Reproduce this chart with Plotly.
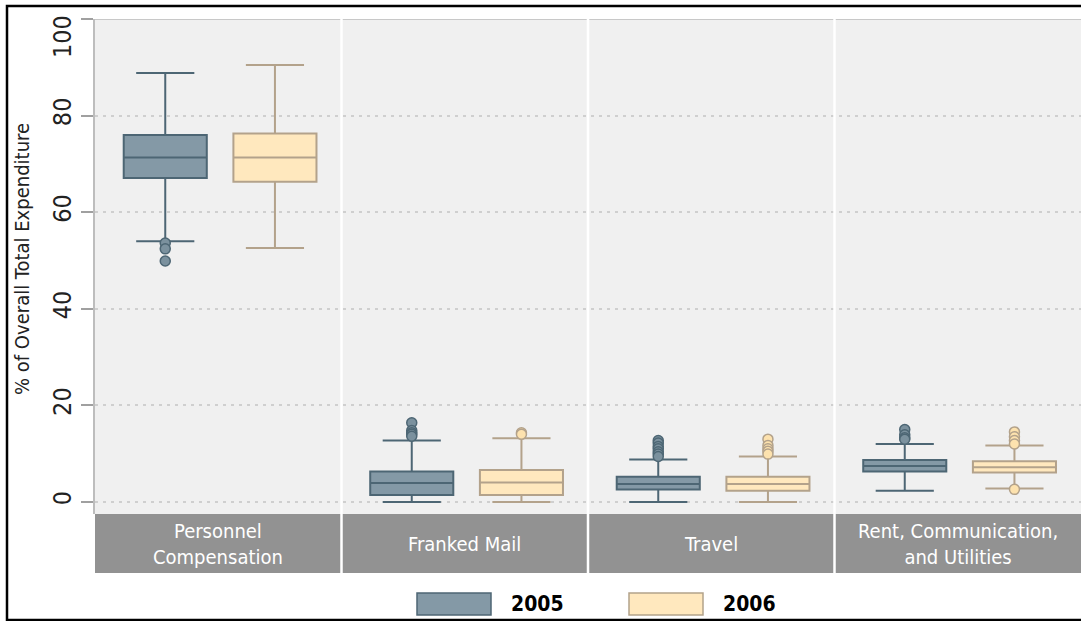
import plotly.graph_objects as go

# Expenditure categories (facet panels) and the two years compared
categories = ["Personnel<br>Compensation", "Franked Mail", "Travel",
              "Rent, Communication,<br>and Utilities"]
years = ["2005", "2006"]

# Box statistics per category, % of overall total expenditure
lower_2005 = [54.0, 0.0, 0.0, 2.3]
q1_2005 = [67.1, 1.45, 2.55, 6.3]
median_2005 = [71.3, 3.9, 3.7, 7.45]
q3_2005 = [76.0, 6.3, 5.2, 8.7]
upper_2005 = [88.8, 12.7, 8.8, 12.0]
outliers_2005 = [
    [53.6, 52.4, 49.9],
    [16.4, 14.8, 14.3, 14.0, 13.6],
    [12.7, 12.2, 11.5, 11.0, 10.4, 9.9, 9.4],
    [15.0, 13.9, 13.3, 13.0],
]

lower_2006 = [52.6, 0.0, 0.0, 2.8]
q1_2006 = [66.3, 1.45, 2.3, 6.1]
median_2006 = [71.3, 4.0, 3.7, 7.2]
q3_2006 = [76.3, 6.6, 5.2, 8.4]
upper_2006 = [90.5, 13.2, 9.4, 11.7]
outliers_2006 = [
    [],
    [14.3, 14.0],
    [13.0, 11.7, 11.0, 10.5, 9.9],
    [14.5, 13.5, 12.7, 12.0, 2.6],
]

y_ticks = [0, 20, 40, 60, 80, 100]

FONT = "DejaVu Sans Condensed, Liberation Sans Narrow, sans-serif"
FILL = {"2005": "#8499a6", "2006": "#ffe8be"}
EDGE = {"2005": "#4d6674", "2006": "#b3a28b"}
DOT_FILL = {"2005": "#7b919e", "2006": "#fde2ae"}
OFFSET = {"2005": 0.285, "2006": 0.73}
BOX_W = 0.337
TICK_SIZE = 25

stats = {
    "2005": (lower_2005, q1_2005, median_2005, q3_2005, upper_2005, outliers_2005),
    "2006": (lower_2006, q1_2006, median_2006, q3_2006, upper_2006, outliers_2006),
}

fig = go.Figure()

for yr in years:
    lo, q1, med, q3, hi, outs = stats[yr]
    xs = [i + OFFSET[yr] for i in range(len(categories))]
    fig.add_trace(go.Box(
        x=xs, q1=q1, median=med, q3=q3, lowerfence=lo, upperfence=hi,
        width=BOX_W, whiskerwidth=0.7, boxpoints=False,
        fillcolor=FILL[yr], line=dict(color=EDGE[yr], width=2),
        name=yr, showlegend=False, hoverinfo="skip",
    ))
    ox, oy = [], []
    for i, vals in enumerate(outs):
        ox += [i + OFFSET[yr]] * len(vals)
        oy += vals
    fig.add_trace(go.Scatter(
        x=ox, y=oy, mode="markers", showlegend=False, hoverinfo="skip",
        marker=dict(size=10, color=DOT_FILL[yr], line=dict(color=EDGE[yr], width=1.5)),
    ))

# plot geometry in pixels
W, H = 1081, 621
L, R, T, B = 95, 0, 19, 107
plot_h = H - T - B
plot_w = W - L - R


def py(pix_y):
    return (H - B - pix_y) / plot_h


def px(pix_x):
    return (pix_x - L) / plot_w


strip_bottom = py(573)
shapes = []

# gray strips carrying the category names
for i, cat in enumerate(categories):
    shapes.append(dict(type="rect", xref="x", yref="paper", x0=i, x1=i + 1,
                       y0=strip_bottom, y1=0, fillcolor="#929292",
                       line=dict(width=0), layer="below"))
    fig.add_annotation(x=i + 0.5, xref="x", y=strip_bottom / 2, yref="paper",
                       xanchor="center", yanchor="middle",
                       text=cat, showarrow=False,
                       font=dict(family=FONT, size=20, color="white"))

# light line along the top of the panels
shapes.append(dict(type="line", xref="paper", yref="y", x0=0, x1=1.01, y0=100, y1=100,
                   line=dict(color="#c8c8c8", width=2)))
# white separators between panels
for i in range(1, len(categories)):
    shapes.append(dict(type="line", xref="x", yref="paper", x0=i, x1=i,
                       y0=strip_bottom, y1=1, line=dict(color="white", width=2.5)))

# outer frame
shapes.append(dict(type="rect", xref="paper", yref="paper",
                   x0=px(7), x1=px(1083), y0=py(620), y1=py(6),
                   line=dict(color="black", width=2.5), fillcolor="rgba(0,0,0,0)"))

# legend swatches and labels
for yr, x0 in (("2005", 417), ("2006", 629)):
    shapes.append(dict(type="rect", xref="paper", yref="paper",
                       x0=px(x0), x1=px(x0 + 74), y0=py(615), y1=py(593),
                       fillcolor=FILL[yr], line=dict(color=EDGE[yr], width=1.5)))
    fig.add_annotation(x=px(x0 + 92), xref="paper", y=py(604), yref="paper",
                       xanchor="left", yanchor="middle", text="<b>%s</b>" % yr,
                       showarrow=False, font=dict(family=FONT, size=21, color="black"))

# top tick label sits just below the panel edge
fig.add_annotation(x=px(62), xref="paper", y=py(37), yref="paper",
                   xanchor="center", yanchor="middle", text=str(y_ticks[-1]),
                   textangle=-90, showarrow=False,
                   font=dict(family=FONT, size=TICK_SIZE, color="#222222"))

# y-axis title
fig.add_annotation(x=px(22), xref="paper", y=py(259), yref="paper",
                   xanchor="center", yanchor="middle",
                   text="% of Overall Total Expenditure", textangle=-90,
                   showarrow=False, font=dict(family=FONT, size=20, color="#222222"))

fig.update_layout(
    width=W, height=H,
    margin=dict(l=L, r=R, t=T, b=B, pad=0),
    paper_bgcolor="white", plot_bgcolor="#f0f0f0",
    shapes=shapes, showlegend=False,
    font=dict(family=FONT),
)
fig.update_xaxes(range=[0, 4], showgrid=False, zeroline=False, showticklabels=False,
                 ticks="", showline=False)
fig.update_yaxes(range=[-2.5, 100], tickvals=y_ticks,
                 ticktext=[str(v) for v in y_ticks[:-1]] + [""],
                 tickangle=-90, ticks="outside", ticklen=12, tickcolor="#a0a0a0",
                 tickwidth=1.5, ticklabelstandoff=0,
                 tickfont=dict(family=FONT, size=TICK_SIZE, color="#222222"),
                 showgrid=True, gridcolor="#cfcfcf", gridwidth=1.5, griddash="3px,5px",
                 zeroline=False, showline=True, linecolor="#bdbdbd", linewidth=1.5)

fig.write_html("out.html")
